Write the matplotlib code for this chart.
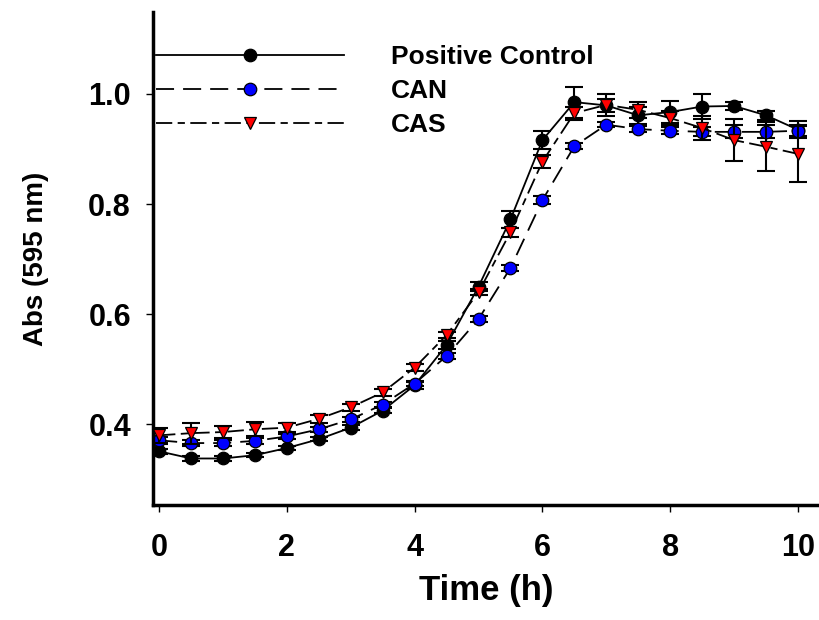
import matplotlib
matplotlib.use('Agg')
import matplotlib.pyplot as plt

# time points (h)
time_h = [0, 0.5, 1, 1.5, 2, 2.5, 3, 3.5, 4, 4.5, 5, 5.5, 6, 6.5, 7, 7.5, 8, 8.5, 9, 9.5, 10]

# absorbance at 595 nm
pos_ctrl = [0.351, 0.338, 0.338, 0.344, 0.357, 0.373, 0.394, 0.425, 0.471, 0.544, 0.650,
            0.772, 0.916, 0.985, 0.979, 0.961, 0.967, 0.977, 0.978, 0.961, 0.935]
can = [0.371, 0.366, 0.366, 0.370, 0.378, 0.391, 0.409, 0.436, 0.474, 0.524, 0.591,
       0.684, 0.807, 0.905, 0.944, 0.936, 0.933, 0.931, 0.931, 0.931, 0.933]
cas = [0.380, 0.384, 0.386, 0.391, 0.394, 0.410, 0.431, 0.458, 0.503, 0.562, 0.640,
       0.749, 0.877, 0.965, 0.980, 0.971, 0.956, 0.938, 0.916, 0.904, 0.891]

pos_err = [0.005, 0.004, 0.004, 0.004, 0.004, 0.004, 0.005, 0.005, 0.006, 0.008, 0.008,
           0.015, 0.017, 0.028, 0.012, 0.015, 0.020, 0.022, 0.008, 0.008, 0.015]
can_err = [0.006, 0.005, 0.005, 0.005, 0.005, 0.005, 0.005, 0.005, 0.005, 0.006, 0.005,
           0.006, 0.007, 0.005, 0.005, 0.006, 0.006, 0.008, 0.012, 0.012, 0.010]
cas_err = [0.014, 0.019, 0.011, 0.013, 0.008, 0.007, 0.006, 0.006, 0.006, 0.006, 0.006,
           0.008, 0.012, 0.012, 0.020, 0.015, 0.012, 0.022, 0.038, 0.044, 0.051]

labels = ['Positive Control', 'CAN', 'CAS']
yticks = [0.4, 0.6, 0.8, 1.0]
xticks = [0, 2, 4, 6, 8, 10]

font = ['Liberation Sans', 'DejaVu Sans']

fig = plt.figure(figsize=(8.19, 6.2), dpi=100)
ax = fig.add_axes([0.187, 0.185, 0.813, 0.796])

# (values, errors, face colour, marker, dash pattern, zorder)
series = [
    (pos_ctrl, pos_err, 'black', 'o', None, 1),
    (can, can_err, 'blue', 'o', (10, 5), 2),
    (cas, cas_err, 'red', 'v', (9, 3, 4, 3), 3),
]

handles = []
for (vals, err, col, mk, dash, z), lab in zip(series, labels):
    ax.errorbar(time_h, vals, yerr=err, fmt='none', ecolor='black',
                elinewidth=1.5, capsize=6.5, capthick=1.5, zorder=z)
    ln, = ax.plot(time_h, vals, color='black', lw=1.3, marker=mk, markersize=9,
                  markerfacecolor=col, markeredgecolor='black', markeredgewidth=0.9,
                  label=lab, zorder=z + 0.5)
    if dash is not None:
        ln.set_dashes(dash)
    handles.append(ln)

ax.set_xlim(-0.094, 10.33)
ax.set_ylim(0.253, 1.149)
ax.set_xticks(xticks)
ax.set_xticklabels([str(v) for v in xticks])
ax.set_yticks(yticks)
ax.set_yticklabels(['%.1f' % v for v in yticks])

for lab in ax.get_xticklabels() + ax.get_yticklabels():
    lab.set_family(font)
    lab.set_fontweight('bold')
    lab.set_fontsize(22)

ax.tick_params(direction='out', length=5, width=1)
ax.tick_params(axis='x', pad=15)
ax.tick_params(axis='y', pad=11)
ax.spines['top'].set_visible(False)
ax.spines['right'].set_visible(False)
ax.spines['left'].set_linewidth(2.5)
ax.spines['bottom'].set_linewidth(2.5)

ax.set_xlabel('Time (h)', family=font, fontweight='bold', fontsize=25, labelpad=8)
ax.set_ylabel('Abs (595 nm)', family=font, fontweight='bold', fontsize=20, labelpad=28)

leg = ax.legend(handles=handles, loc='upper left', bbox_to_anchor=(0.005, 0.933),
                frameon=False, numpoints=1, handlelength=7.1, handletextpad=1.8,
                labelspacing=0.38, borderaxespad=0, borderpad=0,
                prop={'family': font, 'weight': 'bold', 'size': 19})

fig.savefig('out.png', dpi=100)
